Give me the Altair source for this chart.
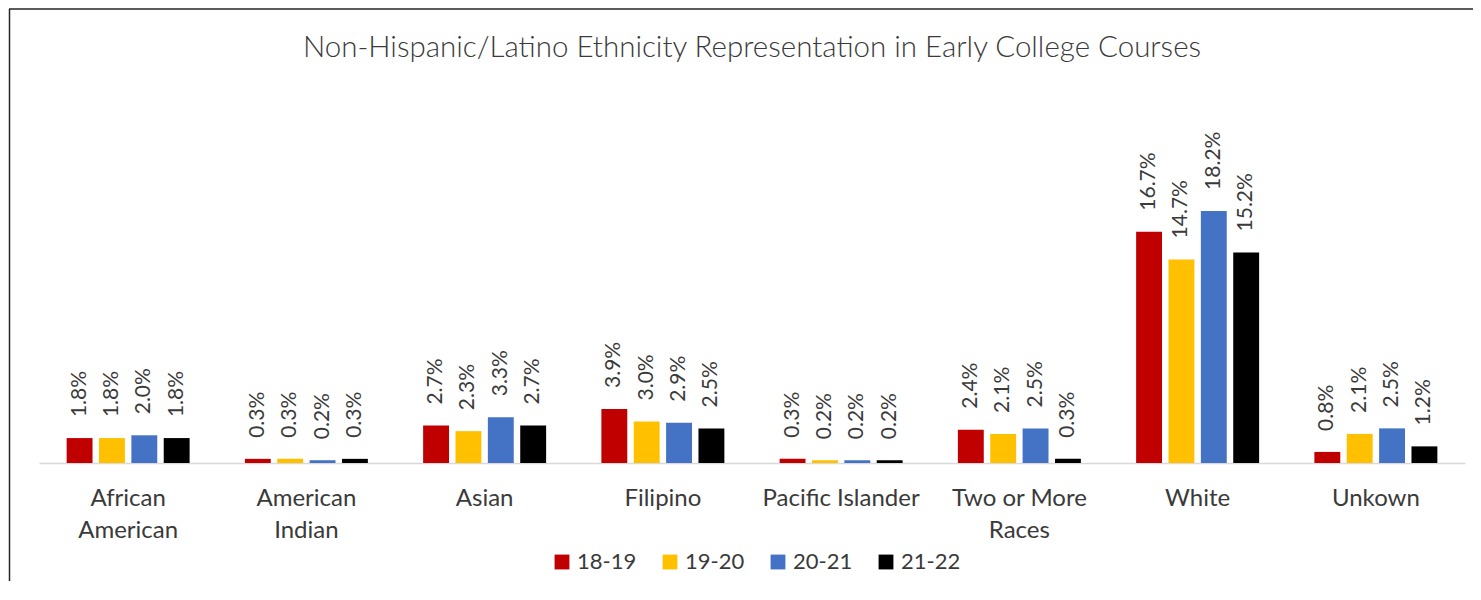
import altair as alt
import pandas as pd

categories = ["African American", "American Indian", "Asian", "Filipino",
              "Pacific Islander", "Two or More Races", "White", "Unkown"]
years = ["18-19", "19-20", "20-21", "21-22"]
v_18_19 = [1.8, 0.3, 2.7, 3.9, 0.3, 2.4, 16.7, 0.8]
v_19_20 = [1.8, 0.3, 2.3, 3.0, 0.2, 2.1, 14.7, 2.1]
v_20_21 = [2.0, 0.2, 3.3, 2.9, 0.2, 2.5, 18.2, 2.5]
v_21_22 = [1.8, 0.3, 2.7, 2.5, 0.2, 0.3, 15.2, 1.2]
colors = ["#C00000", "#FFC000", "#4472C4", "#000000"]
title_text = "Non-Hispanic/Latino Ethnicity Representation in Early College Courses"

series = [v_18_19, v_19_20, v_20_21, v_21_22]
rows = []
for y, vals in zip(years, series):
    for c, v in zip(categories, vals):
        rows.append({"cat": c, "year": y, "value": v})
df = pd.DataFrame(rows)

FONT = "Lato"
TXT = "#3a3a3a"

x = alt.X("cat:N", sort=categories, title=None,
          scale=alt.Scale(paddingInner=0.31, paddingOuter=0.155),
          axis=alt.Axis(labelAngle=0, ticks=False, domainColor="#D9D9D9", domainWidth=1.5,
                        labelFont=FONT, labelFontSize=24, labelColor=TXT,
                        labelPadding=23, labelLineHeight=32,
                        labelExpr="datum.label == 'African American' ? ['African','American'] : datum.label == 'American Indian' ? ['American','Indian'] : datum.label == 'Two or More Races' ? ['Two or More','Races'] : datum.label"))
xo = alt.XOffset("year:N", sort=years, scale=alt.Scale(paddingInner=0.2, paddingOuter=0))
y = alt.Y("value:Q", scale=alt.Scale(domain=[0, 20]), axis=None)

bars = alt.Chart(df).mark_bar().encode(
    x=x, xOffset=xo, y=y,
    color=alt.Color("year:N", sort=years,
                    scale=alt.Scale(domain=years, range=colors),
                    legend=alt.Legend(title=None, orient="none", direction="horizontal",
                                      legendX=512, legendY=365,
                                      symbolType="square", symbolSize=220, symbolStrokeWidth=0,
                                      labelFont=FONT, labelFontSize=22, labelColor=TXT,
                                      columnPadding=22)),
)

labels = alt.Chart(df).transform_calculate(
    lab="format(datum.value, '.1f') + '%'"
).mark_text(angle=270, align="left", baseline="middle", dx=21,
            font=FONT, fontSize=21, color=TXT).encode(
    x=x, xOffset=xo, y=y, text="lab:N"
)

title = alt.Chart(pd.DataFrame({"t": [title_text]})).mark_text(
    font=FONT, fontSize=29.5, fontWeight=300, color=TXT, baseline="alphabetic", align="center"
).encode(x=alt.value(713), y=alt.value(-129), text="t:N")

border_left = alt.Chart(pd.DataFrame({"a": [0]})).mark_rule(
    stroke="#262626", strokeWidth=1.5
).encode(x=alt.value(-29.5), y=alt.value(-177), y2=alt.value(410))

border_top = alt.Chart(pd.DataFrame({"a": [0]})).mark_rule(
    stroke="#262626", strokeWidth=1.5
).encode(x=alt.value(-30), x2=alt.value(1434), y=alt.value(-177))

chart = alt.layer(bars, labels, title, border_left, border_top).properties(
    width=1426, height=277,
    autosize=alt.AutoSizeParams(type="none"),
    padding={"left": 31, "top": 178, "right": 8, "bottom": 118},
).configure_view(stroke=None)

chart.save("out.html", embed_options={"renderer": "svg", "actions": False})
